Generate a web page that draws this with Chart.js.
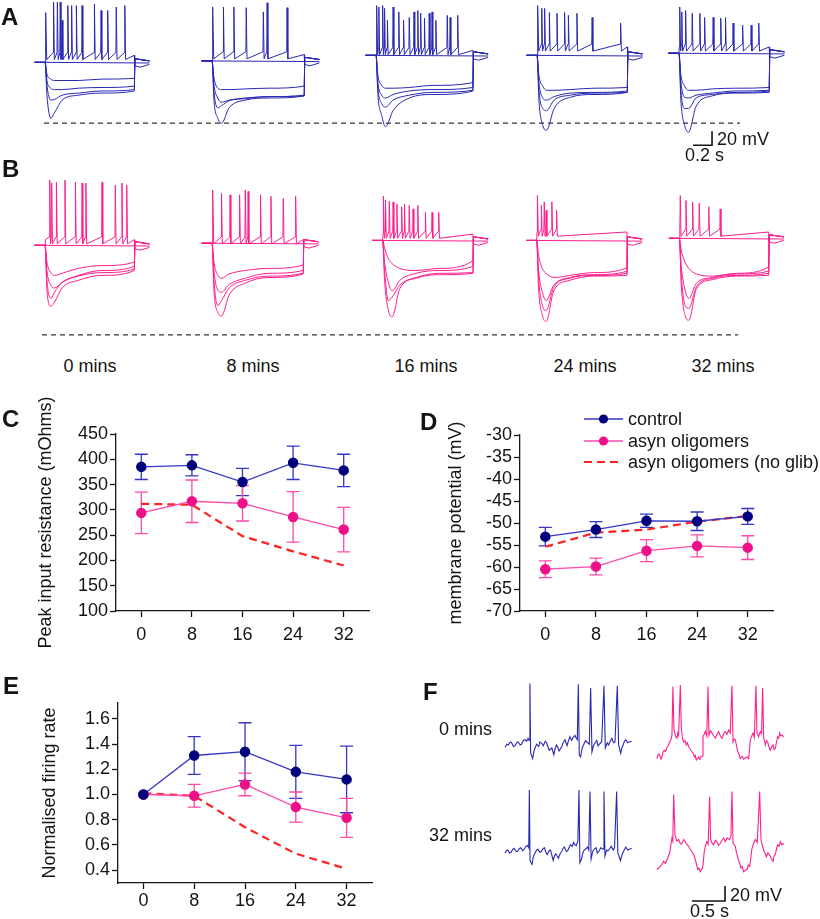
<!DOCTYPE html>
<html>
<head>
<meta charset="utf-8">
<script src="https://cdn.jsdelivr.net/npm/chart.js@4.4.1/dist/chart.umd.min.js"></script>
<style>
  body { margin: 0; background: #fff; }
  #fig { position: relative; width: 820px; height: 919px; overflow: hidden;
         font-family: "Liberation Sans", Arial, sans-serif; color: #141414; }
  canvas { position: absolute; }
  .pl { position: absolute; font-weight: bold; font-size: 24px; line-height: 24px; }
  .tx { position: absolute; font-size: 18px; line-height: 18px; white-space: nowrap; }
  .ctr { width: 120px; text-align: center; }
</style>
</head>
<body>
<div id="fig">
  <canvas id="cA" width="820" height="170" style="left:0;top:0"></canvas>
  <canvas id="cB" width="820" height="175" style="left:0;top:175px"></canvas>
  <canvas id="cC" width="400" height="270" style="left:0;top:390px"></canvas>
  <canvas id="cD" width="410" height="270" style="left:410px;top:390px"></canvas>
  <canvas id="cE" width="400" height="249" style="left:0;top:670px"></canvas>
  <canvas id="cF" width="410" height="249" style="left:410px;top:670px"></canvas>

  <div class="pl" style="left:1px;top:5px">A</div>
  <div class="pl" style="left:2px;top:157px">B</div>
  <div class="pl" style="left:2px;top:407px">C</div>
  <div class="pl" style="left:420px;top:410px">D</div>
  <div class="pl" style="left:3px;top:674px">E</div>
  <div class="pl" style="left:423px;top:680px">F</div>

  <div class="tx" style="left:717px;top:130px">20 mV</div>
  <div class="tx" style="left:685px;top:146px">0.2 s</div>

  <div class="tx ctr" style="left:30px;top:357px">0 mins</div>
  <div class="tx ctr" style="left:193px;top:357px">8 mins</div>
  <div class="tx ctr" style="left:366px;top:357px">16 mins</div>
  <div class="tx ctr" style="left:525px;top:357px">24 mins</div>
  <div class="tx ctr" style="left:663px;top:357px">32 mins</div>

  <div class="tx" style="right:328px;top:720px">0 mins</div>
  <div class="tx" style="right:328px;top:826px">32 mins</div>
  <div class="tx" style="left:730px;top:886px">20 mV</div>
  <div class="tx" style="left:690px;top:902px">0.5 s</div>
</div>

<script>
const FONT = '"Liberation Sans", Arial, sans-serif';
const INK = '#141414';
const TRACE_BLUE = 'rgb(40,40,180)';
const TRACE_PINK = 'rgb(255,30,140)';
const CTRL_LINE = '#3636c6', CTRL_DOT = '#00007c';
const OLIG_LINE = '#ff4aa8', OLIG_DOT = '#ec1188';
const NOGLIB = '#ff2222';

// ---------- C, D, E summary data ----------
const minutes = [0, 8, 16, 24, 32];

const resCtrl = [385, 388, 355, 393, 378];
const resCtrlErr = [25, 21, 27, 33, 32];
const resOlig = [294, 317, 313, 286, 261];
const resOligErr = [41, 42, 35, 50, 44];
const resNoGlib = [312, 310, 248, 218, 190];
const resTicks = [100, 150, 200, 250, 300, 350, 400, 450];

const vmCtrl = [-53.1, -51.5, -49.5, -49.6, -48.5];
const vmCtrlErr = [2.1, 1.8, 1.5, 2.1, 1.8];
const vmOlig = [-60.5, -59.9, -56.3, -55.2, -55.6];
const vmOligErr = [1.9, 1.9, 2.5, 2.5, 2.7];
const vmNoGlib = [-55.4, -52.2, -51.5, -49.7, -48.4];
const vmTicks = [-70, -65, -60, -55, -50, -45, -40, -35, -30];

const frCtrl = [1.0, 1.31, 1.34, 1.18, 1.12];
const frCtrlErr = [0, 0.15, 0.23, 0.21, 0.265];
const frOlig = [1.0, 0.99, 1.08, 0.90, 0.815];
const frOligErr = [0, 0.09, 0.09, 0.12, 0.155];
const frNoGlib = [1.01, 0.99, 0.74, 0.53, 0.41];
const frTicks = [0.4, 0.6, 0.8, 1.0, 1.2, 1.4, 1.6];

const seriesLabels = ['control', 'asyn oligomers', 'asyn oligomers (no glib)'];

// ---------- A / B step-protocol traces (s, mV) ----------
// hyperpolarising sweeps are sampled at these times after step onset, last sample = step end
const hyperT = [0, 0.02, 0.06, 0.1, 0.18, 0.35, 0.6];

const aOnset = [0.474, 2.232, 3.958, 5.653, 7.147];
const aDur = [0.94, 0.97, 1.02, 0.95, 0.95];
const aBase = [-69, -67, -59, -59, -56];
const aPlateau = [10, 9, 7, 12, 9];
const aSpikeT = [
  [0.01, 0.09, 0.13, 0.16, 0.18, 0.24, 0.28, 0.33, 0.39, 0.52, 0.59, 0.66, 0.75, 0.84],
  [0.01, 0.12, 0.23, 0.36, 0.54, 0.58, 0.79],
  [0.01, 0.03, 0.07, 0.09, 0.12, 0.18, 0.24, 0.29, 0.35, 0.40, 0.44, 0.47, 0.51, 0.56, 0.59, 0.63, 0.75, 0.78, 0.86],
  [0.01, 0.05, 0.08, 0.13, 0.21, 0.29, 0.33, 0.42, 0.58, 0.88],
  [0.01, 0.03, 0.07, 0.14, 0.22, 0.27, 0.36, 0.44, 0.49, 0.57, 0.67, 0.76, 0.84]
];
const aSpikePk = [
  [71, 86, 86, 86, 60, 81, 81, 81, 81, 83, 74, 74, 79, 81],
  [77, 77, 77, 76, 70, 83, 76],
  [71, 69, 71, 67, 50, 69, 62, 50, 54, 62, 64, 60, 53, 60, 62, 50, 57, 54, 57],
  [71, 67, 67, 61, 60, 61, 57, 60, 54, 46],
  [66, 59, 61, 57, 57, 51, 51, 50, 51, 43, 40, 40, 43]
];
const aHyper = [
  [[0, -17, -24, -26, -26, -26, -24, -23], [0, -26, -37, -39, -39, -37, -36, -34], [0, -33, -54, -53, -47, -44, -41, -39], [0, -47, -80, -72, -54, -47, -44, -41]],
  [[0, -24, -39, -41, -41, -40, -39, -36], [0, -34, -53, -59, -56, -53, -51, -49], [0, -44, -67, -64, -57, -54, -51, -50], [0, -56, -82, -89, -67, -56, -53, -50]],
  [[0, -29, -43, -47, -47, -46, -43, -39], [0, -39, -57, -61, -56, -51, -49, -46], [0, -47, -69, -74, -64, -57, -53, -50], [0, -57, -86, -102, -79, -61, -56, -51]],
  [[0, -29, -44, -50, -50, -49, -47, -46], [0, -39, -61, -64, -59, -54, -53, -51], [0, -50, -76, -79, -64, -57, -54, -53], [0, -64, -100, -107, -76, -60, -56, -53]],
  [[0, -31, -47, -53, -53, -51, -50, -49], [0, -41, -63, -64, -60, -57, -54, -53], [0, -53, -79, -79, -64, -59, -56, -54], [0, -67, -103, -113, -76, -61, -57, -56]]
];
const aDashLevel = -156, aDashSpan = [0.463, 7.79];
const aBarT = [7.295, 7.495], aBarV = [-187.4, -167.4];

const bOnset = [0.474, 2.232, 4.028, 5.649, 7.151];
const bDur = [0.94, 0.96, 0.95, 0.95, 0.94];
const bBase = [-69, -66, -62, -62, -59];
const bPlateau = [8, 5, 9, 12, 9];
const bSpikeT = [
  [0.05, 0.07, 0.12, 0.21, 0.32, 0.39, 0.43, 0.60, 0.74, 0.81, 0.86],
  [0.01, 0.10, 0.19, 0.29, 0.35, 0.38, 0.51, 0.62, 0.75, 0.88],
  [0.01, 0.03, 0.07, 0.11, 0.15, 0.20, 0.23, 0.28, 0.32, 0.37, 0.45, 0.52, 0.59],
  [0.01, 0.05, 0.08, 0.10, 0.16, 0.21],
  [0.01, 0.07, 0.14, 0.21, 0.31, 0.43]
];
const bSpikePk = [
  [93, 89, 90, 93, 90, 89, 89, 90, 86, 89, 86],
  [76, 71, 69, 69, 76, 74, 69, 67, 64, 67],
  [63, 58, 56, 55, 52, 48, 52, 50, 45, 50, 40, 40, 40],
  [64, 50, 55, 43, 55, 43],
  [61, 54, 52, 50, 45, 42]
];
const bHyper = [
  [[0, -24, -39, -43, -40, -33, -29, -24], [0, -36, -57, -61, -53, -43, -36, -30], [0, -50, -76, -67, -53, -44, -39, -34], [0, -64, -87, -81, -61, -50, -43, -36]],
  [[0, -27, -46, -50, -44, -39, -36, -31], [0, -39, -67, -70, -59, -50, -43, -39], [0, -53, -89, -82, -64, -53, -47, -43], [0, -67, -99, -104, -74, -57, -49, -44]],
  [[0, -11, -26, -33, -40, -43, -40, -29], [0, -31, -60, -72, -57, -47, -43, -37], [0, -43, -86, -81, -64, -53, -47, -46], [0, -57, -100, -109, -69, -54, -49, -47]],
  [[0, -21, -40, -47, -53, -50, -46, -39], [0, -43, -74, -86, -64, -53, -49, -44], [0, -54, -93, -100, -67, -54, -50, -47], [0, -69, -107, -116, -72, -57, -51, -50]],
  [[0, -17, -34, -43, -51, -54, -50, -41], [0, -39, -74, -86, -64, -56, -51, -47], [0, -53, -96, -100, -69, -57, -53, -50], [0, -67, -110, -117, -72, -59, -54, -53]]
];
const bDashLevel = -197, bDashSpan = [0.442, 7.77];

// ---------- F spontaneous activity ([s from trace start, mV from row baseline]) ----------
const fStart = [1.439, 3.742];          // control, oligomer trace start
const fRowBase = [-100, -242];           // 0 mins row, 32 mins row
const fCtrl0 = [[0,-3],[.03,1],[.05,0],[.08,4],[.10,3],[.13,-2],[.15,-1],[.18,3],[.20,4],[.23,0],[.25,1],[.28,6],[.30,7],[.33,5],[.35,9],[.368,6],[.378,82],[.389,-11],[.42,-18],[.44,-8],[.455,-4],[.48,1],[.51,-2],[.53,4],[.56,2],[.58,-1],[.61,5],[.63,3],[.65,-2],[.67,-7],[.71,-4],[.74,-13],[.76,-5],[.78,0],[.80,-3],[.82,-8],[.86,-2],[.88,3],[.91,7],[.94,-1],[.96,5],[.985,11],[1.01,6],[1.025,9],[1.06,13],[1.08,9],[1.096,7],[1.111,81],[1.126,-13],[1.146,-16],[1.17,-4],[1.19,0],[1.22,6],[1.24,4],[1.278,1],[1.298,76],[1.318,-9],[1.34,-1],[1.36,2],[1.39,6],[1.41,-1],[1.44,2],[1.465,4],[1.5,79],[1.52,-4],[1.55,3],[1.57,0],[1.60,6],[1.62,9],[1.645,3],[1.667,4],[1.702,79],[1.722,0],[1.753,-11],[1.77,-4],[1.79,0],[1.81,5],[1.83,7],[1.86,3],[1.88,4],[1.92,5]];
const fCtrl1 = [[0,-2],[.02,1],[.04,2],[.07,-2],[.09,-1],[.12,3],[.14,4],[.17,0],[.19,0],[.22,4],[.24,5],[.27,1],[.29,3],[.32,7],[.34,8],[.36,5],[.369,82],[.38,-12],[.41,-17],[.43,-7],[.45,-3],[.48,2],[.5,3],[.53,-1],[.55,0],[.58,4],[.6,5],[.62,-1],[.64,-4],[.67,1],[.69,2],[.73,-12],[.75,-6],[.77,-3],[.81,-9],[.84,-2],[.86,0],[.88,4],[.9,6],[.93,0],[.95,1],[.99,9],[1.02,7],[1.04,12],[1.06,9],[1.08,8],[1.105,14],[1.121,82],[1.135,-15],[1.16,-10],[1.18,-2],[1.2,2],[1.23,4],[1.25,6],[1.27,2],[1.288,80],[1.305,-10],[1.33,0],[1.35,3],[1.38,5],[1.4,-2],[1.43,1],[1.45,5],[1.49,3],[1.5,80],[1.515,-6],[1.54,2],[1.56,1],[1.59,4],[1.61,7],[1.64,2],[1.66,5],[1.692,80],[1.71,-2],[1.75,-12],[1.77,-5],[1.79,-1],[1.83,6],[1.86,2],[1.88,3],[1.92,4]];
const fOlig0 = [[0,-18],[.02,-12],[.04,-13],[.06,-19],[.076,-16],[.09,-10],[.111,-7],[.13,-9],[.152,-3],[.17,-1],[.192,4],[.21,7],[.227,13],[.242,78],[.258,20],[.28,12],[.303,9],[.315,16],[.328,13],[.354,80],[.369,22],[.385,10],[.404,4],[.424,6],[.444,0],[.46,3],[.48,-2],[.50,-5],[.53,-9],[.55,-11],[.566,-16],[.58,-14],[.596,-20],[.615,-18],[.631,-16],[.65,-19],[.667,-16],[.685,-15],[.697,11],[.715,14],[.732,18],[.755,12],[.773,78],[.788,13],[.81,19],[.833,16],[.86,12],[.884,9],[.91,14],[.934,18],[.96,12],[.985,9],[1.01,15],[1.035,18],[1.06,14],[1.086,20],[1.11,16],[1.136,79],[1.152,4],[1.17,8],[1.187,7],[1.207,-2],[1.227,-9],[1.245,-13],[1.263,-18],[1.29,-15],[1.313,-19],[1.34,-17],[1.364,-16],[1.389,-18],[1.414,7],[1.435,12],[1.455,16],[1.475,10],[1.5,79],[1.515,16],[1.54,11],[1.566,18],[1.585,15],[1.601,76],[1.616,11],[1.641,0],[1.66,6],[1.677,4],[1.695,-2],[1.717,-7],[1.74,-2],[1.758,0],[1.775,-6],[1.793,-4],[1.81,3],[1.828,11],[1.845,9],[1.859,16],[1.875,12],[1.894,13],[1.919,11]];
const fOlig1 = [[0,-24],[.025,-22],[.051,-20],[.075,-17],[.101,-13],[.125,-16],[.152,-11],[.17,-7],[.192,-2],[.21,8],[.227,18],[.24,14],[.253,76],[.273,22],[.3,14],[.328,16],[.355,10],[.379,11],[.405,16],[.429,13],[.455,9],[.48,7],[.505,3],[.53,0],[.555,-4],[.581,-11],[.6,-17],[.616,-24],[.635,-22],[.657,-27],[.675,-24],[.692,-22],[.717,0],[.737,8],[.758,13],[.775,10],[.798,73],[.813,16],[.835,11],[.859,9],[.885,15],[.909,13],[.935,8],[.96,11],[.985,15],[1.01,18],[1.035,13],[1.061,18],[1.1,16],[1.12,20],[1.136,80],[1.152,11],[1.17,9],[1.187,7],[1.205,-2],[1.227,-9],[1.25,-15],[1.273,-22],[1.29,-20],[1.313,-27],[1.34,-25],[1.364,-24],[1.385,-18],[1.404,-20],[1.439,4],[1.465,11],[1.49,16],[1.52,12],[1.556,80],[1.576,16],[1.596,8],[1.616,2],[1.635,-2],[1.657,-7],[1.68,-2],[1.707,-4],[1.73,-9],[1.758,-13],[1.775,-6],[1.793,-4],[1.81,3],[1.828,9],[1.85,7],[1.869,13],[1.895,9],[1.919,11]];
const fBarT = [4.273, 4.773], fBarV = [-308, -288];

// ---------- helpers ----------
function line(points, color, width, extra) {
  return Object.assign({ data: points, borderColor: color, borderWidth: width,
    pointRadius: 0, fill: false, tension: 0 }, extra || {});
}

function stepSweeps(onset, dur, base, plateau, spikeT, spikePk, hyper, color) {
  const sets = [];
  onset.forEach((on, g) => {
    const d = dur[g], v0 = base[g], p = plateau[g];
    sets.push(line([{ x: on - 0.11, y: v0 }, { x: on + d + 0.16, y: v0 - 1 }], color, 1));
    const pts = [{ x: on - 0.11, y: v0 }, { x: on, y: v0 }, { x: on + 0.004, y: v0 + p }];
    spikeT[g].forEach((t, k) => {
      pts.push({ x: on + t - 0.004, y: v0 + p + 4 });
      pts.push({ x: on + t, y: v0 + spikePk[g][k] });
      pts.push({ x: on + t + 0.008, y: v0 + p - 6 });
    });
    pts.push({ x: on + d, y: v0 + p }, { x: on + d + 0.004, y: v0 - 5 },
             { x: on + d + 0.06, y: v0 - 7 }, { x: on + d + 0.16, y: v0 - 3 });
    sets.push(line(pts, color, 1));
    hyper[g].forEach(h => {
      const hp = [{ x: on - 0.11, y: v0 }];
      h.forEach((dv, k) => hp.push({ x: on + (k < hyperT.length ? hyperT[k] : d), y: v0 + dv }));
      hp.push({ x: on + d + 0.006, y: v0 + 5 }, { x: on + d + 0.06, y: v0 + 4 }, { x: on + d + 0.16, y: v0 + 2 });
      sets.push(line(hp, color, 1, { cubicInterpolationMode: 'monotone' }));
    });
  });
  return sets;
}

function bareChart(id, datasets, xmax, ymin, ymax) {
  return new Chart(document.getElementById(id), {
    type: 'line',
    data: { datasets },
    options: {
      responsive: false, animation: false, devicePixelRatio: 1, events: [],
      layout: { padding: 0 },
      plugins: { legend: { display: false }, tooltip: { enabled: false } },
      scales: {
        x: { type: 'linear', display: false, min: 0, max: xmax },
        y: { type: 'linear', display: false, min: ymin, max: ymax }
      }
    }
  });
}

// A
const setsA = stepSweeps(aOnset, aDur, aBase, aPlateau, aSpikeT, aSpikePk, aHyper, TRACE_BLUE);
setsA.push(line([{ x: aDashSpan[0], y: aDashLevel }, { x: aDashSpan[1], y: aDashLevel }], '#333', 1.2, { borderDash: [5, 4] }));
setsA.push(line([{ x: aBarT[0], y: aBarV[0] }, { x: aBarT[1], y: aBarV[0] }, { x: aBarT[1], y: aBarV[1] }], INK, 1.6));
bareChart('cA', setsA, 820 / 95, 20 - 170 / 0.7, 20);

// B
const setsB = stepSweeps(bOnset, bDur, bBase, bPlateau, bSpikeT, bSpikePk, bHyper, TRACE_PINK);
setsB.push(line([{ x: bDashSpan[0], y: bDashLevel }, { x: bDashSpan[1], y: bDashLevel }], '#333', 1.2, { borderDash: [5, 4] }));
bareChart('cB', setsB, 820 / 95, 20 + 8 / 0.7 - 175 / 0.7, 20 + 8 / 0.7);

// F
function fTrace(arr, start, rowBase, color) {
  return line(arr.map(p => ({ x: start + p[0], y: rowBase + p[1] })), color, 1.1);
}
const setsF = [
  fTrace(fCtrl0, fStart[0], fRowBase[0], TRACE_BLUE),
  fTrace(fOlig0, fStart[1], fRowBase[0], TRACE_PINK),
  fTrace(fCtrl1, fStart[0], fRowBase[1], TRACE_BLUE),
  fTrace(fOlig1, fStart[1], fRowBase[1], TRACE_PINK),
  line([{ x: fBarT[0], y: fBarV[0] }, { x: fBarT[1], y: fBarV[0] }, { x: fBarT[1], y: fBarV[1] }], INK, 1.6)
];
bareChart('cF', setsF, 410 / 66, -249 / 0.75, 0);

// ---------- summary plots ----------
const errorBars = {
  id: 'errorBars',
  beforeDatasetsDraw(chart) {
    const { ctx, scales: { x, y } } = chart;
    chart.data.datasets.forEach(ds => {
      if (!ds.err) return;
      ctx.save();
      ctx.strokeStyle = ds.errColor;
      ctx.lineWidth = 1.3;
      ds.data.forEach((p, i) => {
        const e = ds.err[i];
        if (!e) return;
        const px = x.getPixelForValue(p.x);
        const top = y.getPixelForValue(p.y + e), bot = y.getPixelForValue(p.y - e);
        ctx.beginPath();
        ctx.moveTo(px, top); ctx.lineTo(px, bot);
        ctx.moveTo(px - 6.5, top); ctx.lineTo(px + 6.5, top);
        ctx.moveTo(px - 6.5, bot); ctx.lineTo(px + 6.5, bot);
        ctx.stroke();
      });
      ctx.restore();
    });
  }
};

const cornerLegend = {
  id: 'cornerLegend',
  afterDraw(chart, args, opts) {
    const ctx = chart.ctx;
    chart.data.datasets.forEach((ds, i) => {
      const y = opts.rows[i];
      ctx.save();
      ctx.strokeStyle = ds.borderColor;
      ctx.lineWidth = ds.borderWidth;
      ctx.setLineDash(ds.borderDash || []);
      ctx.beginPath(); ctx.moveTo(opts.x0, y); ctx.lineTo(opts.x1, y); ctx.stroke();
      if (ds.pointRadius) {
        ctx.setLineDash([]);
        ctx.fillStyle = ds.pointBackgroundColor;
        ctx.beginPath(); ctx.arc((opts.x0 + opts.x1) / 2, y, ds.pointRadius, 0, Math.PI * 2); ctx.fill();
      }
      ctx.fillStyle = INK;
      ctx.font = '18px ' + FONT;
      ctx.textBaseline = 'middle';
      ctx.fillText(ds.label, opts.tx, y + 1);
      ctx.restore();
    });
  }
};

function pts(vals) { return vals.map((v, i) => ({ x: minutes[i], y: v })); }

function summaryChart(id, o) {
  const datasets = [
    line(pts(o.ctrl), CTRL_LINE, 1.3, { label: seriesLabels[0], pointRadius: 4.6, pointBackgroundColor: CTRL_DOT,
      pointBorderColor: CTRL_DOT, err: o.ctrlErr, errColor: CTRL_LINE }),
    line(pts(o.olig), OLIG_LINE, 1.3, { label: seriesLabels[1], pointRadius: 4.6, pointBackgroundColor: OLIG_DOT,
      pointBorderColor: OLIG_DOT, err: o.oligErr, errColor: OLIG_LINE }),
    line(pts(o.noglib), NOGLIB, 2.2, { label: seriesLabels[2], borderDash: [8, 5] })
  ];
  const font = { family: FONT, size: 18 };
  const grid = { drawOnChartArea: false, drawTicks: true, tickLength: 6, tickColor: INK, tickWidth: 1.3 };
  return new Chart(document.getElementById(id), {
    type: 'line',
    data: { datasets },
    options: {
      responsive: false, animation: false, devicePixelRatio: 1, events: [],
      layout: { padding: { left: 0, top: o.padTop, right: o.padRight, bottom: 0 } },
      plugins: { legend: { display: false }, tooltip: { enabled: false }, cornerLegend: o.legend || {} },
      scales: {
        x: {
          type: 'linear', min: -4, max: 36,
          afterBuildTicks: a => { a.ticks = minutes.map(v => ({ value: v })); },
          afterFit: s => { s.height = o.xH; },
          ticks: { font, color: INK, padding: o.xPad, maxRotation: 0, autoSkip: false },
          grid, border: { color: INK, width: 1.3 }
        },
        y: {
          type: 'linear', min: o.ymin, max: o.ymax,
          afterBuildTicks: a => { a.ticks = o.yTicks.map(v => ({ value: v })); },
          afterFit: s => { s.width = o.yW; },
          ticks: { font, color: INK, padding: 2, callback: o.fmt, autoSkip: false },
          grid, border: { color: INK, width: 1.3 },
          title: { display: true, text: o.title, font, color: INK, padding: { top: o.titlePad, bottom: 0 } }
        }
      }
    },
    plugins: o.legend ? [errorBars, cornerLegend] : [errorBars]
  });
}

summaryChart('cC', {
  ctrl: resCtrl, ctrlErr: resCtrlErr, olig: resOlig, oligErr: resOligErr, noglib: resNoGlib,
  ymin: 100, ymax: 450, yTicks: resTicks, fmt: v => String(v),
  title: 'Peak input resistance (mOhms)', titlePad: 35,
  padTop: 44, padRight: 31, yW: 116, xH: 49, xPad: 7
});

summaryChart('cD', {
  ctrl: vmCtrl, ctrlErr: vmCtrlErr, olig: vmOlig, oligErr: vmOligErr, noglib: vmNoGlib,
  ymin: -70, ymax: -30, yTicks: vmTicks, fmt: v => String(v),
  title: 'membrane potential (mV)', titlePad: 35,
  padTop: 45, padRight: 47, yW: 110, xH: 49, xPad: 7,
  legend: { x0: 174, x1: 213, tx: 218, rows: [29, 51, 72] }
});

summaryChart('cE', {
  ctrl: frCtrl, ctrlErr: frCtrlErr, olig: frOlig, oligErr: frOligErr, noglib: frNoGlib,
  ymin: 0.297, ymax: 1.727, yTicks: frTicks, fmt: v => v.toFixed(1),
  title: 'Normalised firing rate', titlePad: 39,
  padTop: 33, padRight: 28, yW: 118, xH: 36, xPad: 1
});
</script>
</body>
</html>
